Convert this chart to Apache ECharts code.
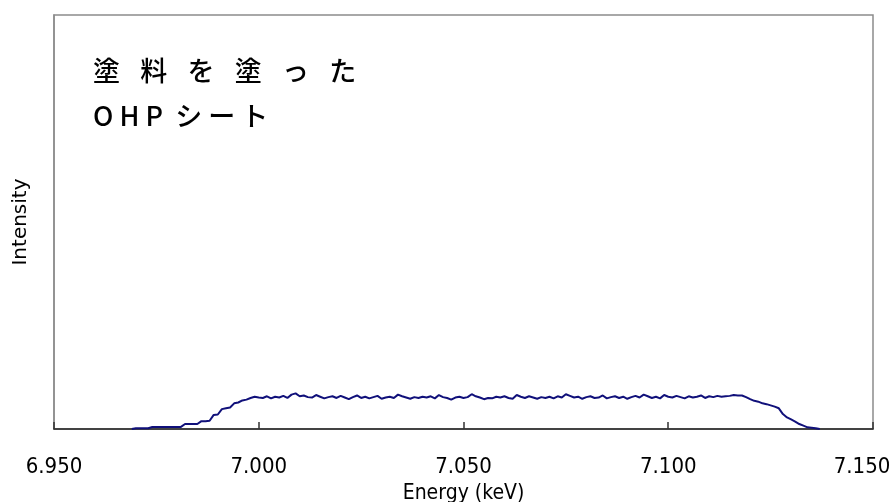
<!DOCTYPE html>
<html>
<head>
<meta charset="utf-8">
<script src="https://cdn.jsdelivr.net/npm/echarts@6/dist/echarts.min.js"></script>
<style>
html,body{margin:0;padding:0;background:#fff;}
#chart{width:896px;height:502px;}
</style>
</head>
<body>
<div id="chart"></div>
<script>
// Sampling grid of the spectrum (keV)
const energyStart = 6.969;
const energyStep = 0.001;
// Intensity (arbitrary units, axis 0..100)
const intensity = [
  0.0, 0.2, 0.2, 0.2, 0.2, 0.5, 0.5, 0.5, 0.5, 0.5, 0.5, 0.5, 0.5, 1.2, 1.2, 1.2, 1.2, 1.9, 1.9, 2.0,
  3.4, 3.5, 4.8, 5.0, 5.2, 6.2, 6.4, 6.9, 7.1, 7.5, 7.8, 7.6,
  7.5, 7.9, 7.4, 7.8, 7.6, 8.0, 7.5, 8.3, 8.6, 7.9, 8.1, 7.7, 7.6, 8.2, 7.8, 7.4, 7.7, 7.9, 7.5, 8.0,
  7.6, 7.2, 7.7, 8.1, 7.5, 7.8, 7.4, 7.7, 8.0, 7.3, 7.6, 7.8, 7.5, 8.3, 7.9, 7.6, 7.3, 7.7, 7.5, 7.8,
  7.6, 7.9, 7.4, 8.2, 7.7, 7.5, 7.1, 7.6, 7.8, 7.5, 7.7, 8.4, 7.9, 7.6, 7.2, 7.5, 7.4, 7.8, 7.6, 7.9,
  7.5, 7.3, 8.2, 7.8, 7.5, 7.9, 7.6, 7.3, 7.7, 7.5, 7.8, 7.4, 7.9, 7.6, 8.4, 8.0, 7.6, 7.8, 7.3, 7.7,
  7.9, 7.5, 7.6, 8.1, 7.4, 7.7, 7.9, 7.5, 7.8, 7.3, 7.7, 8.0, 7.6, 8.3, 7.9, 7.5, 7.8, 7.4, 8.2, 7.8,
  7.6, 8.0, 7.7, 7.4, 7.9, 7.6, 7.8, 8.1, 7.5, 7.9, 7.7, 8.0, 7.8, 7.9, 8.0, 8.2, 8.1,
  8.1, 7.7, 7.2, 6.8, 6.6, 6.2, 6.0, 5.7, 5.4, 5.0, 3.6, 2.8, 2.3, 1.8, 1.2, 0.8, 0.4, 0.3, 0.2, 0.0
];
const xTickLabels = ['6.950', '7.000', '7.050', '7.100', '7.150'];
const xName = 'Energy (keV)';
const yName = 'Intensity';
const noteLine1 = '塗\u2002\u2005料\u2002\u2005を\u2002\u2005塗\u2002\u2005っ\u2002\u2005た';
const noteLine2 = 'O H P  シ ー ト';

const seriesData = intensity.map((v, i) => [+(energyStart + i * energyStep).toFixed(3), v]);

const chart = echarts.init(document.getElementById('chart'), null, {renderer: 'canvas'});
const narrow = "'Liberation Sans Narrow', 'DejaVu Sans Condensed', 'Noto Sans CJK JP', sans-serif";
chart.setOption({
  animation: false,
  backgroundColor: '#ffffff',
  grid: {left: 54, right: 23, top: 15, bottom: 73, show: true, borderColor: '#8c8c8c', borderWidth: 1.5,
         containLabel: false, outerBoundsMode: 'none'},
  xAxis: {
    type: 'value', min: 6.95, max: 7.15, interval: 0.05,
    name: xName, nameLocation: 'middle', nameGap: 50,
    nameTextStyle: {fontFamily: narrow, fontSize: 21, color: '#000'},
    axisLine: {show: true, onZero: false, lineStyle: {color: '#222', width: 1.5}},
    axisTick: {show: true, inside: true, length: 7, lineStyle: {color: '#333', width: 1.5}},
    splitLine: {show: false},
    axisLabel: {
      margin: 27, fontFamily: narrow, fontSize: 22, color: '#000',
      formatter: (v) => {
        const i = Math.round((v - 6.95) / 0.05);
        const t = xTickLabels[i] || v.toFixed(3);
        return i === xTickLabels.length - 1 ? '{r|' + t + '}' : t;
      },
      rich: {r: {fontFamily: narrow, fontSize: 22, color: '#000', padding: [0, 22, 0, 0]}}
    }
  },
  yAxis: {
    type: 'value', min: 0, max: 100,
    name: yName, nameLocation: 'middle', nameGap: 23, nameRotate: 90,
    nameTextStyle: {fontFamily: "'DejaVu Sans', sans-serif", fontSize: 20, color: '#000'},
    axisLine: {show: true, lineStyle: {color: '#8c8c8c', width: 1.5}},
    axisTick: {show: false}, axisLabel: {show: false}, splitLine: {show: false}
  },
  series: [{
    type: 'line', data: seriesData, showSymbol: false, symbol: 'none',
    lineStyle: {color: '#10107a', width: 2}
  }],
  graphic: [
    {type: 'text', left: 93, top: 57, style: {text: noteLine1, font: "500 27px 'Noto Sans CJK JP', sans-serif", fill: '#000'}},
    {type: 'text', left: 93, top: 102, style: {text: noteLine2, font: "500 27px 'Noto Sans CJK JP', sans-serif", fill: '#000'}}
  ]
});
</script>
</body>
</html>
